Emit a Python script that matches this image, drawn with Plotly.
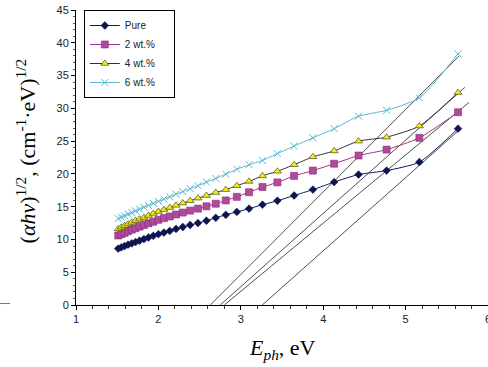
import plotly.graph_objects as go

# Photon energies (eV)
energy = [1.512, 1.55, 1.59, 1.632, 1.676, 1.722, 1.771, 1.824, 1.879, 1.938,
          2.0, 2.067, 2.138, 2.214, 2.296, 2.385, 2.48, 2.583, 2.696, 2.818,
          2.952, 3.1, 3.263, 3.444, 3.647, 3.875, 4.133, 4.429, 4.769, 5.167, 5.636]

pure = [8.6, 8.8, 9.0, 9.2, 9.4, 9.6, 9.8, 10.05, 10.3, 10.55,
        10.8, 11.05, 11.3, 11.6, 11.9, 12.2, 12.5, 12.85, 13.3, 13.75,
        14.2, 14.7, 15.3, 15.9, 16.7, 17.6, 18.75, 19.9, 20.5, 21.8, 26.9]

wt2 = [10.6, 10.8, 11.0, 11.25, 11.5, 11.7, 11.95, 12.2, 12.45, 12.7,
       13.0, 13.25, 13.5, 13.8, 14.1, 14.4, 14.7, 15.05, 15.45, 15.95,
       16.5, 17.2, 18.0, 18.7, 19.7, 20.5, 21.55, 22.8, 23.7, 25.5, 29.4]

wt4 = [11.6, 11.85, 12.1, 12.35, 12.6, 12.85, 13.1, 13.35, 13.65, 13.95,
       14.25, 14.55, 14.85, 15.2, 15.55, 15.9, 16.3, 16.7, 17.15, 17.6,
       18.2, 18.85, 19.7, 20.4, 21.4, 22.6, 23.5, 25.0, 25.6, 27.3, 32.4]

wt6 = [13.2, 13.4, 13.6, 13.85, 14.1, 14.35, 14.6, 14.9, 15.2, 15.5,
       15.8, 16.15, 16.5, 16.9, 17.3, 17.75, 18.2, 18.75, 19.3, 19.95,
       20.7, 21.4, 22.05, 23.1, 24.25, 25.5, 26.9, 28.8, 29.7, 31.6, 38.3]

# Linear extrapolation (Tauc) lines: [x at y=0, x end], [0, y end]
fit_x = {"6": [2.63, 5.65], "4": [2.75, 5.72], "2": [2.80, 5.77], "p": [3.26, 5.66]}
fit_y = {"6": [0, 38.0], "4": [0, 33.2], "2": [0, 30.9], "p": [0, 26.8]}

x_ticks = [1, 2, 3, 4, 5, 6]
y_ticks = [0, 5, 10, 15, 20, 25, 30, 35, 40, 45]

PAD = "\u00a0" * 5

fig = go.Figure()

for k in ["6", "4", "2", "p"]:
    fig.add_trace(go.Scatter(x=fit_x[k], y=fit_y[k], mode="lines",
                             line=dict(color="#3a3a3a", width=0.9),
                             showlegend=False, hoverinfo="skip"))

fig.add_trace(go.Scatter(
    x=energy, y=pure, name="Pure" + PAD, mode="lines+markers",
    line=dict(color="#101a5e", width=1, shape="spline", smoothing=0.6),
    marker=dict(symbol="diamond", size=6, color="#0c1550",
                line=dict(color="#0c1550", width=0.5))))
fig.add_trace(go.Scatter(
    x=energy, y=wt2, name="2 wt.%" + PAD, mode="lines+markers",
    line=dict(color="#a0308a", width=1, shape="spline", smoothing=0.6),
    marker=dict(symbol="square", size=7, color="#b04a9a",
                line=dict(color="#8a2a78", width=0.6))))
fig.add_trace(go.Scatter(
    x=energy, y=wt4, name="4 wt.%" + PAD, mode="lines+markers",
    line=dict(color="#333333", width=1, shape="spline", smoothing=0.6),
    marker=dict(symbol="triangle-up", size=7, color="#f2ee10",
                line=dict(color="#4a4a20", width=0.7))))
fig.add_trace(go.Scatter(
    x=energy, y=wt6, name="6 wt.%" + PAD, mode="lines+markers",
    line=dict(color="#5ab8d0", width=1, shape="spline", smoothing=0.6),
    marker=dict(symbol="x-thin-open", size=7, color="#5ab8d0",
                line=dict(color="#5ab8d0", width=1))))

axis_font = dict(family="Liberation Sans, Arial", size=11, color="#222")

fig.update_layout(
    width=488, height=367,
    margin=dict(l=76, r=0, t=10, b=62, autoexpand=False),
    paper_bgcolor="white", plot_bgcolor="white",
    showlegend=True,
    legend=dict(x=0.019, y=1.0, xanchor="left", yanchor="top",
                bgcolor="white", bordercolor="black", borderwidth=1,
                font=dict(family="Liberation Sans, Arial", size=10, color="#222"),
                tracegroupgap=0, itemwidth=30),
    xaxis=dict(range=[1, 6], tickvals=x_ticks, ticktext=[str(v) for v in x_ticks],
               automargin=False, ticklabeloverflow="allow",
               showline=True, linecolor="black", linewidth=1,
               ticks="outside", ticklen=4, tickcolor="black",
               minor=dict(dtick=0.2, ticks="outside", ticklen=3, tickcolor="#333"),
               showgrid=False, zeroline=False, tickfont=axis_font),
    yaxis=dict(range=[0, 45], tickvals=y_ticks, ticktext=[str(v) for v in y_ticks],
               automargin=False,
               showline=True, linecolor="black", linewidth=1,
               ticks="outside", ticklen=4, tickcolor="black",
               minor=dict(dtick=1, ticks="outside", ticklen=2, tickcolor="#555"),
               showgrid=False, zeroline=False, tickfont=axis_font),
    annotations=[
        dict(xref="paper", yref="paper", x=-0.121, y=0.521,
             text="(<i>αhν</i>)<sup>1/2</sup>, (cm<sup>-1</sup>·eV)<sup>1/2</sup>",
             textangle=-90, showarrow=False, xanchor="center", yanchor="middle",
             font=dict(family="Liberation Serif, Times New Roman", size=22, color="black")),
        dict(xref="paper", yref="paper", x=0.5, y=0, yshift=-44,
             text="<i>E<sub>ph</sub></i>, eV", showarrow=False,
             xanchor="center", yanchor="middle",
             font=dict(family="Liberation Serif, Times New Roman", size=22, color="black")),
    ],
    shapes=[dict(type="line", xref="paper", yref="paper",
                 x0=-0.185, x1=-0.16, y0=0.005, y1=0.005,
                 line=dict(color="#777", width=1))],
)

fig.write_html("out.html",
               config={"displayModeBar": False},
               post_script="document.body.style.margin='0';document.body.style.padding='0';document.body.style.overflow='hidden';")
